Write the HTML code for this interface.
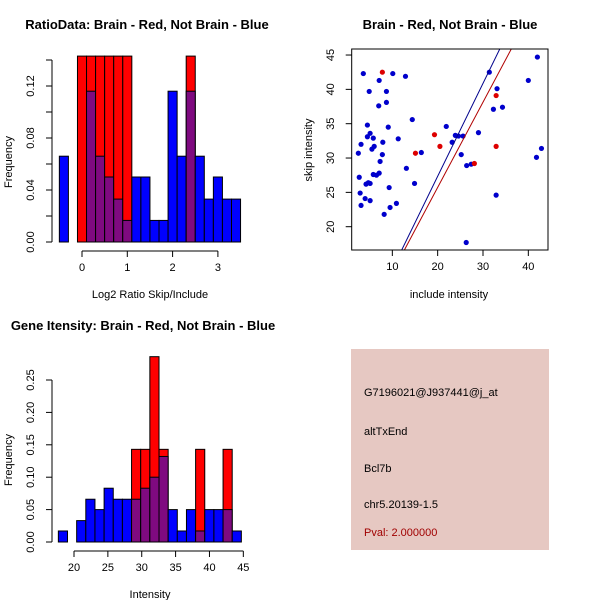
<!DOCTYPE html>
<html><head><meta charset="utf-8"><style>
body{margin:0;background:#fff}
svg{display:block;font-family:"Liberation Sans",sans-serif}
text{font-size:11px}
.t{font-weight:bold;font-size:13px}
</style></head><body>
<svg id="s" width="600" height="600" viewBox="0 0 600 600">
<rect width="600" height="600" fill="#fff"/>
<text class="t" x="147" y="29" text-anchor="middle">RatioData: Brain - Red, Not Brain - Blue</text>
<text class="t" x="450" y="29" text-anchor="middle">Brain - Red, Not Brain - Blue</text>
<text class="t" x="143" y="330" text-anchor="middle">Gene Itensity: Brain - Red, Not Brain - Blue</text>
<text x="150" y="298" text-anchor="middle">Log2 Ratio Skip/Include</text>
<text x="12" y="162" text-anchor="middle" transform="rotate(-90 12 162)">Frequency</text>
<text x="449" y="298" text-anchor="middle">include intensity</text>
<text x="312" y="150" text-anchor="middle" transform="rotate(-90 312 150)">skip intensity</text>
<text x="150" y="598" text-anchor="middle">Intensity</text>
<text x="12" y="460" text-anchor="middle" transform="rotate(-90 12 460)">Frequency</text>
<g id="g1"></g>
<g id="g2"></g>
<g id="g3"></g>
<g>
<rect x="351" y="349" width="198" height="201" fill="#e6c8c2"/>
<text x="364" y="396">G7196021@J937441@j_at</text>
<text x="364" y="435">altTxEnd</text>
<text x="364" y="472">Bcl7b</text>
<text x="364" y="508">chr5.20139-1.5</text>
<text x="364" y="536" fill="#a00000">Pval: 2.000000</text>
</g>
</svg>
<script>
// Ratio histogram data
const ratioStart = -0.5, ratioWidth = 0.2;
const ratioBlue = [0.066,0,0,0.116,0.066,0.05,0.033,0.0166,0.05,0.05,0.0166,0.0166,0.116,0.066,0.116,0.066,0.033,0.05,0.033,0.033];
const ratioRed  = [0,0,0.143,0.143,0.143,0.143,0.143,0.143,0,0,0,0,0,0,0.143,0,0,0,0,0];
const ratioYTicks = [0,0.02,0.04,0.06,0.08,0.1,0.12,0.14];
const ratioYLabels = ["0.00","","0.04","","0.08","","0.12",""];
const ratioXTicks = [0,1,2,3];
// Intensity histogram data
const intStart = 17.69, intWidth = 1.351;
const intBlue = [0.017,0,0.033,0.066,0.05,0.083,0.066,0.066,0.066,0.083,0.1,0.132,0.05,0.017,0.05,0.017,0.05,0.05,0.05,0.017];
const intRed  = [0,0,0,0,0,0,0,0,0.143,0.143,0.286,0.143,0,0,0,0.143,0,0,0.143,0];
const intYTicks = [0,0.05,0.1,0.15,0.2,0.25];
const intYLabels = ["0.00","0.05","0.10","0.15","0.20","0.25"];
const intXTicks = [20,25,30,35,40,45];
// Scatter data
const blueX = [3.6,12.9,10.1,7.1,4.9,8.7,8.7,7.0,14.4,4.5,9.1,5.1,4.5,5.8,11.3,7.9,3.1,6.0,5.5,2.5,7.8,7.3,13.1,16.4,2.7,5.8,6.5,7.1,4.2,4.7,5.1,14.9,9.3,2.9,4.0,5.1,3.1,9.5,10.9,8.2,21.9,23.9,24.6,25.6,23.2,25.2,26.4,27.4,29.0,31.4,33.1,32.3,34.3,32.9,26.3,40.0,42.0,41.8,42.9];
const blueY = [42.3,41.9,42.3,41.3,39.7,39.7,38.1,37.6,35.6,34.8,34.5,33.6,33.1,32.9,32.8,32.3,32.0,31.7,31.3,30.7,30.5,29.5,28.5,30.8,27.2,27.6,27.5,27.8,26.2,26.4,26.3,26.3,25.7,24.9,24.1,23.8,23.1,22.8,23.4,21.8,34.6,33.3,33.2,33.2,32.3,30.5,28.9,29.1,33.7,42.5,40.1,37.1,37.4,24.6,17.7,41.3,44.7,30.1,31.4];
const redX = [7.8,19.3,15.1,20.5,28.1,32.9,32.9];
const redY = [42.5,33.4,30.7,31.7,29.2,39.1,31.7];
const lineSlope = [1.353,1.241];
const lineIntercept = [0.28,0.90];
const scXTicks = [10,20,30,40];
const scYTicks = [20,25,30,35,40,45];

const NS="http://www.w3.org/2000/svg";
function mk(p,tag,a,txt){const e=document.createElementNS(NS,tag);for(const k in a)e.setAttribute(k,a[k]);if(txt!==undefined)e.textContent=txt;p.appendChild(e);return e;}

function hist(g,start,w,blue,red,X,Y,yTicks,yLabels,xTicks,axX,axY,yLabX){
  for(let i=0;i<blue.length;i++){
    const x0=X(start+i*w),x1=X(start+(i+1)*w);
    const b=blue[i],r=red[i],m=Math.min(b,r);
    if(r>0){const e=mk(g,'rect',{x:x0,y:Y(r),width:x1-x0,height:Y(0)-Y(r),fill:'#ff0000',stroke:'#000','stroke-width':1});
      
      }
    if(b>r){const e=mk(g,'rect',{x:x0,y:Y(b),width:x1-x0,height:Y(0)-Y(b),fill:'#0000ff',stroke:'#000','stroke-width':1});
      
      }
    if(m>0){const e=mk(g,'rect',{x:x0,y:Y(m),width:x1-x0,height:Y(0)-Y(m),fill:'#7f0a80',stroke:'#000','stroke-width':1});
      
      }
  }
  mk(g,'line',{x1:axX,y1:Y(yTicks[0]),x2:axX,y2:Y(yTicks[yTicks.length-1]),stroke:'#000'});
  yTicks.forEach((t,i)=>{mk(g,'line',{x1:axX-6,y1:Y(t),x2:axX,y2:Y(t),stroke:'#000'});
    if(yLabels[i]){const e=mk(g,'text',{x:yLabX,y:Y(t),'text-anchor':'middle',transform:`rotate(-90 ${yLabX} ${Y(t)})`},yLabels[i]);
      
      }});
  mk(g,'line',{x1:X(xTicks[0]),y1:axY,x2:X(xTicks[xTicks.length-1]),y2:axY,stroke:'#000'});
  xTicks.forEach(t=>{mk(g,'line',{x1:X(t),y1:axY,x2:X(t),y2:axY+6,stroke:'#000'});
    const e=mk(g,'text',{x:X(t),y:axY+20,'text-anchor':'middle'},String(t));
    
    });
}
const g1=document.getElementById('g1');
hist(g1,ratioStart,ratioWidth,ratioBlue,ratioRed,v=>82+v*45.3,v=>242-v*1300,ratioYTicks,ratioYLabels,ratioXTicks,52,251,34);
const g3=document.getElementById('g3');
hist(g3,intStart,intWidth,intBlue,intRed,v=>74+(v-20)*6.773,v=>542-v*648,intYTicks,intYLabels,intXTicks,52,551,34);

const g2=document.getElementById('g2');
const SX=v=>347+v*4.533, SY=v=>226.7-(v-20)*6.867;
const bx0=351.7,bx1=548,by0=49,by1=250;
const cp=mk(g2,'clipPath',{id:'cp'});mk(cp,'rect',{x:bx0,y:by0,width:bx1-bx0,height:by1-by0});
blueX.forEach((x,i)=>{const e=mk(g2,'circle',{cx:SX(x),cy:SY(blueY[i]),r:2.6,fill:'#0000cc'});
  
  });
redX.forEach((x,i)=>{const e=mk(g2,'circle',{cx:SX(x),cy:SY(redY[i]),r:2.6,fill:'#dd0000'});
  
  });
const lc=['#00008b','#b00000'];
lineSlope.forEach((s,i)=>{const xa=0,xb=50;
  const e=mk(g2,'line',{x1:SX(xa),y1:SY(lineIntercept[i]+s*xa),x2:SX(xb),y2:SY(lineIntercept[i]+s*xb),stroke:lc[i],'stroke-width':1,'clip-path':'url(#cp)'});
  
  });
mk(g2,'rect',{x:bx0,y:by0,width:bx1-bx0,height:by1-by0,fill:'none',stroke:'#000'});
scXTicks.forEach(t=>{mk(g2,'line',{x1:SX(t),y1:by1,x2:SX(t),y2:by1+6,stroke:'#000'});
  const e=mk(g2,'text',{x:SX(t),y:by1+20,'text-anchor':'middle'},String(t));
  
  });
scYTicks.forEach(t=>{mk(g2,'line',{x1:bx0-6,y1:SY(t),x2:bx0,y2:SY(t),stroke:'#000'});
  const lx=334;
  const e=mk(g2,'text',{x:lx,y:SY(t),'text-anchor':'middle',transform:`rotate(-90 ${lx} ${SY(t)})`},String(t));
  
  });
</script>
</body></html>
